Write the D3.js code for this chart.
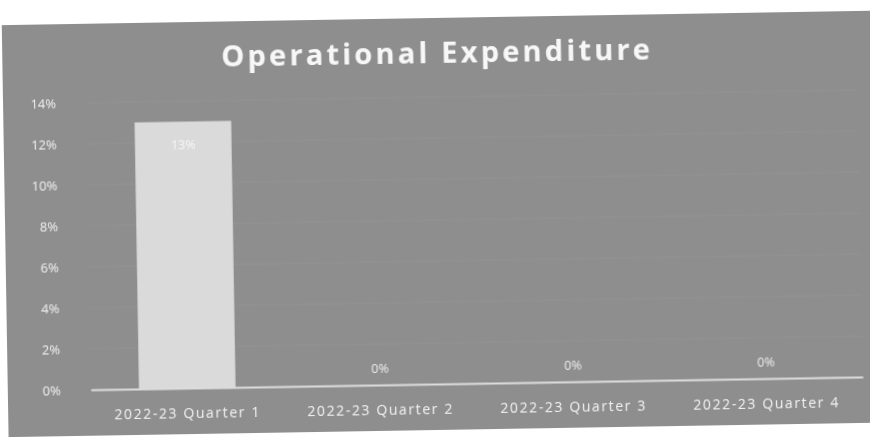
<!DOCTYPE html>
<html>
<head>
<meta charset="utf-8">
<script src="https://cdn.jsdelivr.net/npm/d3@7"></script>
<style>
  html, body { margin: 0; padding: 0; background: #ffffff; }
  svg { display: block; }
</style>
</head>
<body>
<svg id="chart" width="870" height="437"></svg>
<script>
// Operational expenditure share by quarter
const categories = ["2022-23 Quarter 1", "2022-23 Quarter 2", "2022-23 Quarter 3", "2022-23 Quarter 4"];
const values = [13, 0, 0, 0];
const yTicks = [0, 2, 4, 6, 8, 10, 12, 14];
const title = "Operational Expenditure";

const svg = d3.select("#chart");

const defs = svg.append("defs");
defs.append("filter").attr("id", "soft")
  .append("feGaussianBlur").attr("stdDeviation", 0.45);

// whole card is tilted slightly
const card = svg.append("g")
  .attr("transform", "rotate(-0.95, 435, 218)")
  .attr("filter", "url(#soft)");

card.append("rect")
  .attr("x", 5).attr("y", 18)
  .attr("width", 870).attr("height", 412)
  .attr("fill", "#8e8e8e");

const margin = { left: 88, right: 860, top: 97, bottom: 384 };

const x = d3.scaleBand()
  .domain(categories)
  .range([margin.left, margin.right])
  .paddingInner(0.5)
  .paddingOuter(0.25);

const y = d3.scaleLinear()
  .domain([0, 14])
  .range([margin.bottom, margin.top]);

// faint gridlines
card.append("g")
  .selectAll("line")
  .data(yTicks.filter(d => d > 0))
  .join("line")
  .attr("x1", margin.left).attr("x2", margin.right)
  .attr("y1", d => y(d)).attr("y2", d => y(d))
  .attr("stroke", "#939393")
  .attr("stroke-width", 1);

// title
card.append("text")
  .attr("x", 440).attr("y", 63)
  .attr("text-anchor", "middle")
  .attr("font-family", "'Open Sans', 'DejaVu Sans', sans-serif")
  .attr("font-weight", "bold")
  .attr("font-size", 29)
  .attr("letter-spacing", 3.2)
  .attr("fill", "#f7f7f7")
  .text(title);

// y axis labels
const yAxis = d3.axisLeft(y)
  .tickValues(yTicks)
  .tickFormat(d => d + "%")
  .tickSize(0)
  .tickPadding(0);
const yg = card.append("g")
  .attr("transform", `translate(58,0)`)
  .call(yAxis);
yg.select(".domain").remove();
yg.selectAll("text")
  .attr("font-family", "'Open Sans', 'DejaVu Sans', sans-serif")
  .attr("font-size", 13)
  .attr("fill", "#ededed");

// bars
card.append("g")
  .selectAll("rect")
  .data(values)
  .join("rect")
  .attr("x", (d, i) => x(categories[i]))
  .attr("width", x.bandwidth())
  .attr("y", d => y(d))
  .attr("height", d => y(0) - y(d))
  .attr("fill", "#dadada");

// x axis
const xAxis = d3.axisBottom(x).tickSize(0).tickPadding(20);
const xg = card.append("g")
  .attr("transform", `translate(0,${y(0)})`)
  .call(xAxis);
xg.select(".domain")
  .attr("stroke", "#dcdcdc")
  .attr("stroke-width", 2);
xg.selectAll("text")
  .attr("font-family", "'Open Sans', 'DejaVu Sans', sans-serif")
  .attr("font-size", 14)
  .attr("letter-spacing", 1.6)
  .attr("fill", "#f0f0f0");

// data labels
card.append("g")
  .selectAll("text")
  .data(values)
  .join("text")
  .attr("x", (d, i) => x(categories[i]) + x.bandwidth() / 2)
  .attr("y", d => d > 0 ? y(d) + 27 : y(d) - 12)
  .attr("text-anchor", "middle")
  .attr("font-family", "'Open Sans', 'DejaVu Sans', sans-serif")
  .attr("font-size", 12.5)
  .attr("fill", d => d > 0 ? "#f6f6f6" : "#e8e8e8")
  .text(d => d + "%");
</script>
</body>
</html>
